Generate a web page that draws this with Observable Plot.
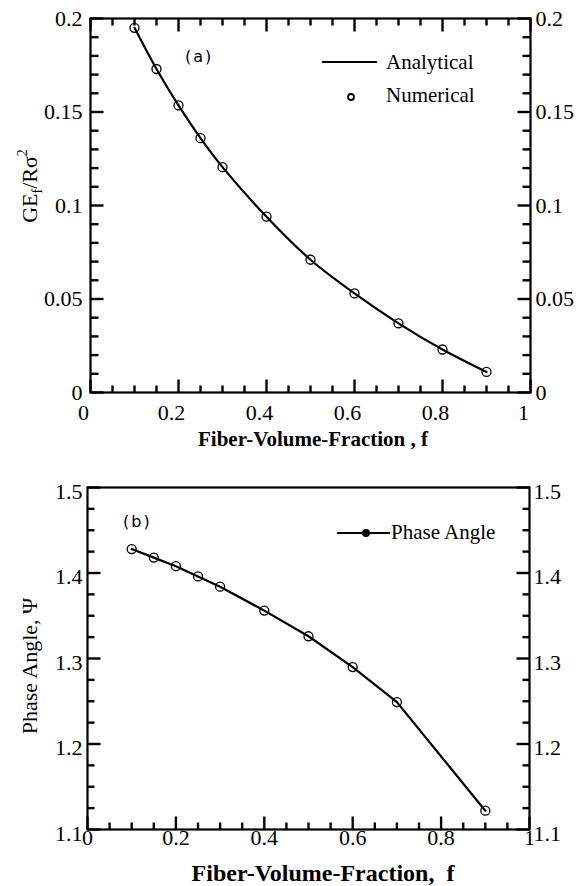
<!DOCTYPE html>
<html><head><meta charset="utf-8">
<script src="https://cdn.jsdelivr.net/npm/d3@7"></script>
<script src="https://cdn.jsdelivr.net/npm/@observablehq/plot@0.6"></script>
<style>
body{margin:0;background:#fff;}
#chart{width:580px;}
#chart svg{display:block;overflow:visible;}
</style></head><body><div id="chart"></div>
<script>
// ---- data, panel (a)
const fracA = [0.1, 0.15, 0.2, 0.25, 0.3, 0.4, 0.5, 0.6, 0.7, 0.8, 0.9];
const analyticalA = [0.195, 0.173, 0.1535, 0.136, 0.1205, 0.094, 0.071, 0.053, 0.037, 0.023, 0.011];
const numericalA = [0.195, 0.173, 0.1535, 0.136, 0.1205, 0.094, 0.071, 0.053, 0.037, 0.023, 0.011];
// ---- data, panel (b)
const fracB = [0.1, 0.15, 0.2, 0.25, 0.3, 0.4, 0.5, 0.6, 0.7, 0.9];
const phaseB = [1.428, 1.418, 1.408, 1.396, 1.384, 1.356, 1.326, 1.29, 1.249, 1.122];
// ---- ticks and labels
const xMajor = [0, 0.2, 0.4, 0.6, 0.8, 1];
const xLabels = ["0", "0.2", "0.4", "0.6", "0.8", "1"];
const xMinor = [0.05, 0.1, 0.15, 0.25, 0.3, 0.35, 0.45, 0.5, 0.55, 0.65, 0.7, 0.75, 0.85, 0.9, 0.95];
const yMajorA = [0, 0.05, 0.1, 0.15, 0.2];
const yLabelsA = ["0", "0.05", "0.1", "0.15", "0.2"];
const yMinorA = [0.01, 0.02, 0.03, 0.04, 0.06, 0.07, 0.08, 0.09, 0.11, 0.12, 0.13, 0.14, 0.16, 0.17, 0.18, 0.19];
const yMajorB = [1.1, 1.2, 1.3, 1.4, 1.5];
const yLabelsB = ["1.1", "1.2", "1.3", "1.4", "1.5"];
const yMinorB = [1.125, 1.15, 1.175, 1.225, 1.25, 1.275, 1.325, 1.35, 1.375, 1.425, 1.45, 1.475];

const serif = "Liberation Serif, Times New Roman, serif";
const lab = (ticks, labels) => { const m = new Map(ticks.map((t, i) => [t, labels[i]])); return d => m.get(d); };

const rowsA = fracA.map((f, i) => ({f, an: analyticalA[i], nu: numericalA[i]}));
const rowsB = fracB.map((f, i) => ({f, p: phaseB[i]}));

// inward tick marks as short links; lengths given in pixels, converted through the plot size
function tickMarks(xd, yd, W, H, sides) {
  const sx = (xd[1] - xd[0]) / W, sy = (yd[1] - yd[0]) / H;
  const st = {stroke: "black", strokeWidth: 2.4, strokeLinecap: "butt"};
  const out = [];
  for (const [side, ticks, L] of sides) {
    if (side === "bottom") out.push(Plot.link(ticks, {x1: d => d, x2: d => d, y1: yd[0], y2: yd[0] + L * sy, ...st}));
    if (side === "top") out.push(Plot.link(ticks, {x1: d => d, x2: d => d, y1: yd[1], y2: yd[1] - L * sy, ...st}));
    if (side === "left") out.push(Plot.link(ticks, {y1: d => d, y2: d => d, x1: xd[0], x2: xd[0] + L * sx, ...st}));
    if (side === "right") out.push(Plot.link(ticks, {y1: d => d, y2: d => d, x1: xd[1], x2: xd[1] - L * sx, ...st}));
  }
  return out;
}

// panel (a): plot area 440 x 374
const xdA = [0, 1], ydA = [0, 0.2];
const A = Plot.plot({
  width: 580, height: 452,
  marginLeft: 90, marginRight: 50, marginTop: 18, marginBottom: 60,
  x: {domain: xdA, label: null},
  y: {domain: ydA, label: null},
  style: {fontFamily: serif, fontSize: "22px", overflow: "visible"},
  marks: [
    Plot.frame({stroke: "black", strokeWidth: 2.2, fill: "none"}),
    ...tickMarks(xdA, ydA, 440, 374, [
      ["bottom", xMinor, 7], ["bottom", xMajor, 13], ["top", xMinor, 7], ["top", xMajor, 13],
      ["left", yMinorA, 8], ["left", yMajorA, 13], ["right", yMinorA, 8], ["right", yMajorA, 13]
    ]),
    Plot.axisX({anchor: "bottom", ticks: xMajor, tickFormat: lab(xMajor, xLabels), tickSize: 0, tickPadding: 12, dx: -7, label: null}),
    Plot.axisY({anchor: "left", ticks: yMajorA, tickFormat: lab(yMajorA, yLabelsA), tickSize: 0, tickPadding: 8, label: null}),
    Plot.axisY({anchor: "right", ticks: yMajorA, tickFormat: lab(yMajorA, yLabelsA), tickSize: 0, tickPadding: 5, label: null}),
    Plot.line(rowsA, {x: "f", y: "an", curve: "catmull-rom", stroke: "black", strokeWidth: 2.2}),
    Plot.dot(rowsA, {x: "f", y: "nu", r: 4.5, stroke: "black", fill: "none", strokeWidth: 1.3})
  ]
});

// panel (b): plot area 442 x 342
const xdB = [0, 1], ydB = [1.1, 1.5];
const B = Plot.plot({
  width: 580, height: 434,
  marginLeft: 87, marginRight: 51, marginTop: 35, marginBottom: 57,
  x: {domain: xdB, label: null},
  y: {domain: ydB, label: null},
  style: {fontFamily: serif, fontSize: "22px", overflow: "visible"},
  marks: [
    Plot.frame({stroke: "black", strokeWidth: 2.2, fill: "none"}),
    ...tickMarks(xdB, ydB, 442, 342, [
      ["bottom", xMinor, 7], ["bottom", xMajor, 13],
      ["left", yMinorB, 7], ["left", yMajorB, 13], ["right", yMinorB, 7], ["right", yMajorB, 13]
    ]),
    Plot.axisX({anchor: "bottom", ticks: xMajor, tickFormat: lab(xMajor, xLabels), tickSize: 0, tickPadding: 0, label: null}),
    Plot.axisY({anchor: "left", ticks: yMajorB, tickFormat: lab(yMajorB, yLabelsB), tickSize: 0, tickPadding: 5, dy: 4, label: null}),
    Plot.axisY({anchor: "right", ticks: yMajorB, tickFormat: lab(yMajorB, yLabelsB), tickSize: 0, tickPadding: 4, dy: 4, label: null}),
    Plot.line(rowsB, {x: "f", y: "p", stroke: "black", strokeWidth: 2.2}),
    Plot.dot(rowsB, {x: "f", y: "p", r: 4.5, stroke: "black", fill: "none", strokeWidth: 1.3})
  ]
});

const txt = (sel, x, y, s, opts = {}) => sel.append("text").attr("x", x).attr("y", y)
  .attr("text-anchor", opts.anchor || "start").attr("font-family", opts.family || serif)
  .attr("font-size", opts.size || 21).attr("font-weight", opts.weight || "normal")
  .attr("letter-spacing", opts.ls || 0).attr("fill", "#000").style("font-family", opts.family || serif).text(s);

// ---- annotations, titles, legends (panel a)
const sa = d3.select(A);
const ya = sa.append("text")
  .attr("transform", "translate(37,186) rotate(-90)")
  .attr("text-anchor", "middle").attr("font-family", serif).style("font-family", serif).attr("font-size", 22).attr("fill", "#000");
ya.append("tspan").text("GE");
ya.append("tspan").attr("font-size", 14).attr("dy", 5).text("f");
ya.append("tspan").attr("dy", -5).text("/Rσ");
ya.append("tspan").attr("font-size", 14).attr("dy", -10).text("2");
txt(sa, 313, 446, "Fiber-Volume-Fraction , f", {anchor: "middle", weight: "bold", size: 21});
txt(sa, 185, 62, "(a)", {family: "DejaVu Sans, sans-serif", size: 16, ls: 2});
sa.append("line").attr("x1", 322).attr("x2", 377).attr("y1", 62).attr("y2", 62).attr("stroke", "#000").attr("stroke-width", 2);
txt(sa, 386, 69, "Analytical");
sa.append("circle").attr("cx", 351).attr("cy", 97).attr("r", 3).attr("fill", "none").attr("stroke", "#000").attr("stroke-width", 1.8);
txt(sa, 386, 102, "Numerical");

// ---- panel (b)
const sb = d3.select(B);
sb.append("text").attr("transform", "translate(37,214) rotate(-90)")
  .attr("text-anchor", "middle").attr("font-family", serif).style("font-family", serif).attr("font-size", 22).attr("fill", "#000").text("Phase Angle, Ψ");
txt(sb, 323, 429, "Fiber-Volume-Fraction,  f", {anchor: "middle", weight: "bold", size: 24});
txt(sb, 123, 75, "(b)", {family: "DejaVu Sans, sans-serif", size: 16, ls: 2});
sb.append("line").attr("x1", 337).attr("x2", 390).attr("y1", 81).attr("y2", 81).attr("stroke", "#000").attr("stroke-width", 2);
sb.append("circle").attr("cx", 366).attr("cy", 81).attr("r", 4).attr("fill", "#000");
txt(sb, 391, 87, "Phase Angle");

document.getElementById("chart").append(A, B);
</script></body></html>
